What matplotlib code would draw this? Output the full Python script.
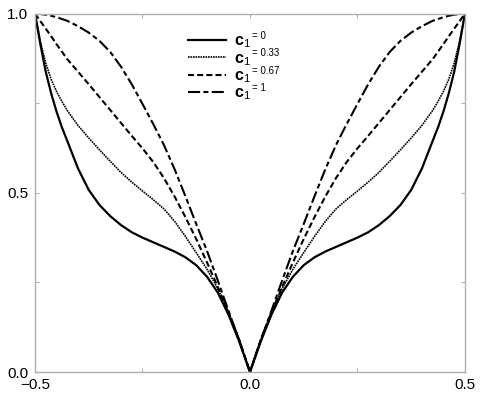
import numpy as np
import matplotlib
matplotlib.use("Agg")
import matplotlib.pyplot as plt

plt.rcParams['font.family'] = ['Liberation Sans', 'DejaVu Sans']
plt.rcParams['mathtext.fontset'] = 'custom'
plt.rcParams['mathtext.rm'] = 'Liberation Sans'
plt.rcParams['mathtext.it'] = 'Liberation Sans'
plt.rcParams['mathtext.bf'] = 'Liberation Sans:bold'

# left half of the curves (x <= 0), the chart is symmetric about x = 0
x_half = [-0.5, -0.4875, -0.475, -0.4625, -0.45, -0.4375, -0.425, -0.4, -0.375,
          -0.35, -0.325, -0.3, -0.275, -0.25, -0.225, -0.2, -0.175, -0.15,
          -0.125, -0.1, -0.075, -0.05, -0.025, 0.0]

y_c0 = [1.0, 0.915, 0.838, 0.778, 0.727, 0.683, 0.645, 0.568, 0.508,
        0.466, 0.435, 0.41, 0.39, 0.375, 0.362, 0.349, 0.336, 0.32,
        0.298, 0.266, 0.222, 0.16, 0.085, 0.0]
y_c033 = [1.0, 0.922, 0.862, 0.817, 0.783, 0.755, 0.73, 0.688, 0.653,
          0.62, 0.588, 0.557, 0.53, 0.505, 0.481, 0.455, 0.42, 0.378,
          0.333, 0.287, 0.233, 0.168, 0.09, 0.0]
y_c067 = [1.0, 0.979, 0.958, 0.937, 0.915, 0.894, 0.873, 0.838, 0.803,
          0.767, 0.731, 0.695, 0.659, 0.624, 0.586, 0.541, 0.489, 0.432,
          0.371, 0.306, 0.238, 0.166, 0.09, 0.0]
y_c1 = [1.0, 0.999, 0.997, 0.994, 0.99, 0.985, 0.98, 0.965, 0.947,
        0.924, 0.893, 0.852, 0.803, 0.748, 0.692, 0.633, 0.565, 0.49,
        0.413, 0.338, 0.256, 0.171, 0.088, 0.0]

c1_values = ['0', '0.33', '0.67', '1']


def full(xs, ys):
    xs = np.array(xs)
    ys = np.array(ys)
    return np.concatenate([xs, -xs[-2::-1]]), np.concatenate([ys, ys[-2::-1]])


fig = plt.figure(figsize=(4.82, 3.96), dpi=100)
ax = fig.add_axes([0.0726, 0.0606, 0.892, 0.905])

styles = [dict(ls='-', lw=1.6),
          dict(ls=(0, (1.0, 0.5)), lw=1.2),
          dict(ls=(0, (2.9, 1.5)), lw=1.5),
          dict(ls=(0, (5.8, 1.6, 2.4, 1.6)), lw=1.5)]

for ys, st in zip([y_c0, y_c033, y_c067, y_c1], styles):
    xx, yy = full(x_half, ys)
    ax.plot(xx, yy, color='black', label=r'$\mathbf{c}_1$', solid_joinstyle='round', **st)

ax.set_xlim(-0.5, 0.5)
ax.set_ylim(0, 1)
ax.set_xticks([-0.5, 0.0, 0.5])
ax.set_xticklabels(['\u22120.5', '0.0', '0.5'])
ax.set_yticks([0.0, 0.5, 1.0])
ax.set_yticklabels(['0.0', '0.5', '1.0'])
ax.set_xticks([-0.25, 0.25], minor=True)
ax.set_yticks([0.25, 0.75], minor=True)

for s in ax.spines.values():
    s.set_color('#b0b0b0')
    s.set_linewidth(1.0)

ax.tick_params(which='both', direction='in', length=3, width=0.8, color='#b0b0b0',
               top=True, right=True, labelsize=11, labelcolor='black')
ax.tick_params(axis='x', pad=4)
ax.tick_params(axis='y', pad=5)

leg = ax.legend(loc='upper left', bbox_to_anchor=(0.33, 0.975), frameon=False,
                fontsize=11.5, handlelength=2.4, handletextpad=0.45, labelspacing=0.03,
                borderpad=0.2)

# "= value" written small, up and to the right of c_1
for txt, val in zip(leg.get_texts(), c1_values):
    ax.annotate('= ' + val, xy=(1, 0.85), xycoords=txt, xytext=(1.5, -3),
                textcoords='offset points', fontsize=7, va='bottom', ha='left',
                zorder=10)

fig.savefig('out.png', dpi=100)
